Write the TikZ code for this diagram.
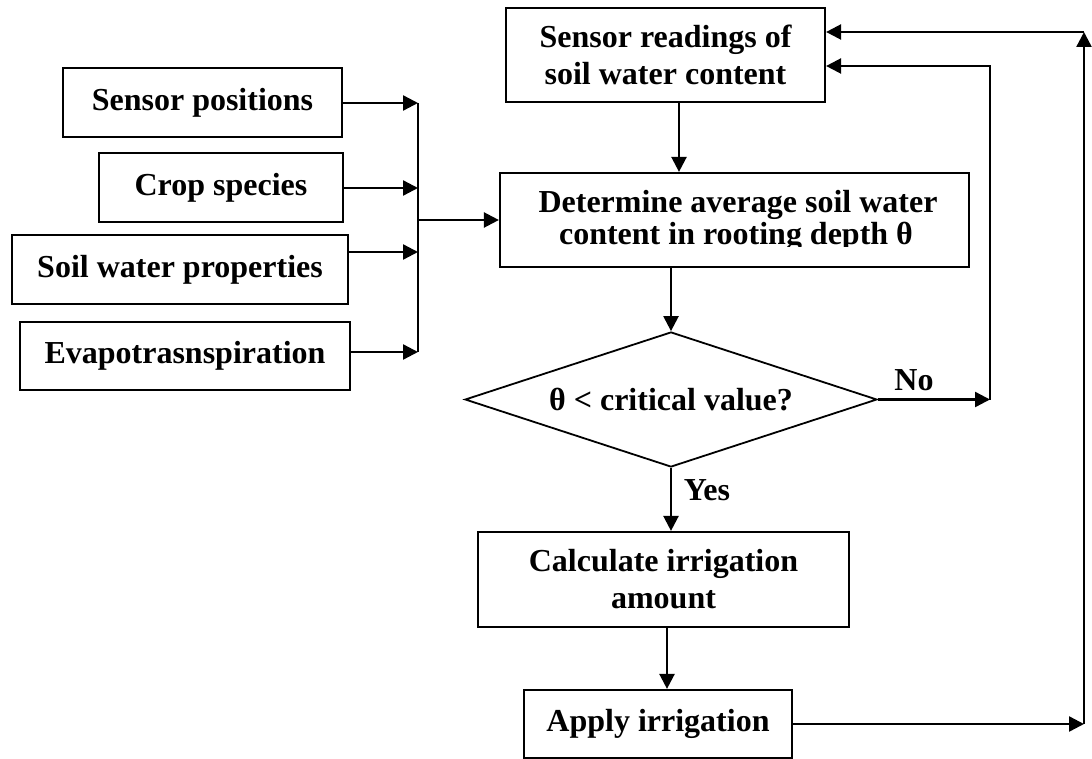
\documentclass[tikz,border=0pt]{standalone}
\usepackage{fontspec}
\setmainfont{Liberation Serif}
\usetikzlibrary{arrows.meta,shapes.geometric}
\begin{document}
\begin{tikzpicture}[x=1pt,y=-1pt,
  every node/.style={font=\fontsize{32}{37}\selectfont\bfseries},
  box/.style={draw,line width=2.2pt,inner sep=0pt,align=center},
  arr/.style={line width=2.4pt,-{Triangle[length=15pt,width=15pt]}},
  ln/.style={line width=2.4pt},
  lbl/.style={anchor=base,inner sep=0pt}]
\useasboundingbox (0,0) rectangle (1092,759);

% left input boxes
\node[box,minimum width=279pt,minimum height=69pt] (sp) at (202.5,102.5) {Sensor positions};
\node[box,minimum width=244pt,minimum height=69pt] (cs) at (221,187.5) {Crop species};
\node[box,minimum width=336pt,minimum height=69pt] (swp) at (180,269.5) {Soil water properties};
\node[box,minimum width=330pt,minimum height=68pt] (ev) at (185,356) {Evapotrasnspiration};

% main chain
\node[box,minimum width=319pt,minimum height=94pt] (sr) at (665.5,55) {Sensor readings of\\soil water content};
\node[box,minimum width=469pt,minimum height=94pt] (det) at (734.5,220) {};
\begin{scope}
  \clip (500,173) rectangle (969,247);
  \node[lbl] (det1) at (738,213) {Determine average soil water};
  \node[lbl] (det2) at (736,245) {content in rooting depth θ};
\end{scope}
\node[draw,diamond,line width=1.8pt,aspect=3.07,inner sep=0pt,minimum width=412pt,minimum height=135pt] (dia) at (671,399.5) {θ < critical value?};
\node[box,minimum width=371pt,minimum height=95pt] (calc) at (663.5,579.5) {Calculate irrigation\\amount};
\node[box,minimum width=268pt,minimum height=68pt] (app) at (658,724) {Apply irrigation};

% labels
\node[lbl] (no) at (914,390) {No};
\node[lbl] (yes) at (707,500) {Yes};

% bus of inputs
\coordinate (b1) at (418,103);
\coordinate (b2) at (418,188);
\coordinate (b3) at (418,252);
\coordinate (b4) at (418,352);
\coordinate (bm) at (418,220);
\draw[arr] (sp.east |- b1) -- (b1);
\draw[arr] (cs.east |- b2) -- (b2);
\draw[arr] (swp.east |- b3) -- (b3);
\draw[arr] (ev.east |- b4) -- (b4);
\draw[ln] (b1) -- (b4);
\draw[arr] (bm) -- (det.west |- bm);

% vertical flow
\coordinate (t1) at (679,0);
\coordinate (t2) at (667,0);
\draw[arr] (sr.south -| t1) -- (det.north -| t1);
\draw[arr] (det.south -| dia.north) -- (dia.north);
\draw[arr] (dia.south) -- (calc.north -| dia.south);
\draw[arr] (calc.south -| t2) -- (app.north -| t2);

% No loop
\coordinate (n1) at (990,399.5);
\coordinate (n2) at (990,66);
\draw[arr] (dia.east) -- (n1);
\draw[arr] (n1) -- (n2) -- (sr.east |- n2);

% irrigation loop
\coordinate (r1) at (1084,724);
\coordinate (r2) at (1084,32);
\draw[arr] (app.east |- r1) -- (r1);
\draw[arr] (r1) -- (r2);
\draw[arr] (r2) -- (sr.east |- r2);
\end{tikzpicture}
\end{document}
